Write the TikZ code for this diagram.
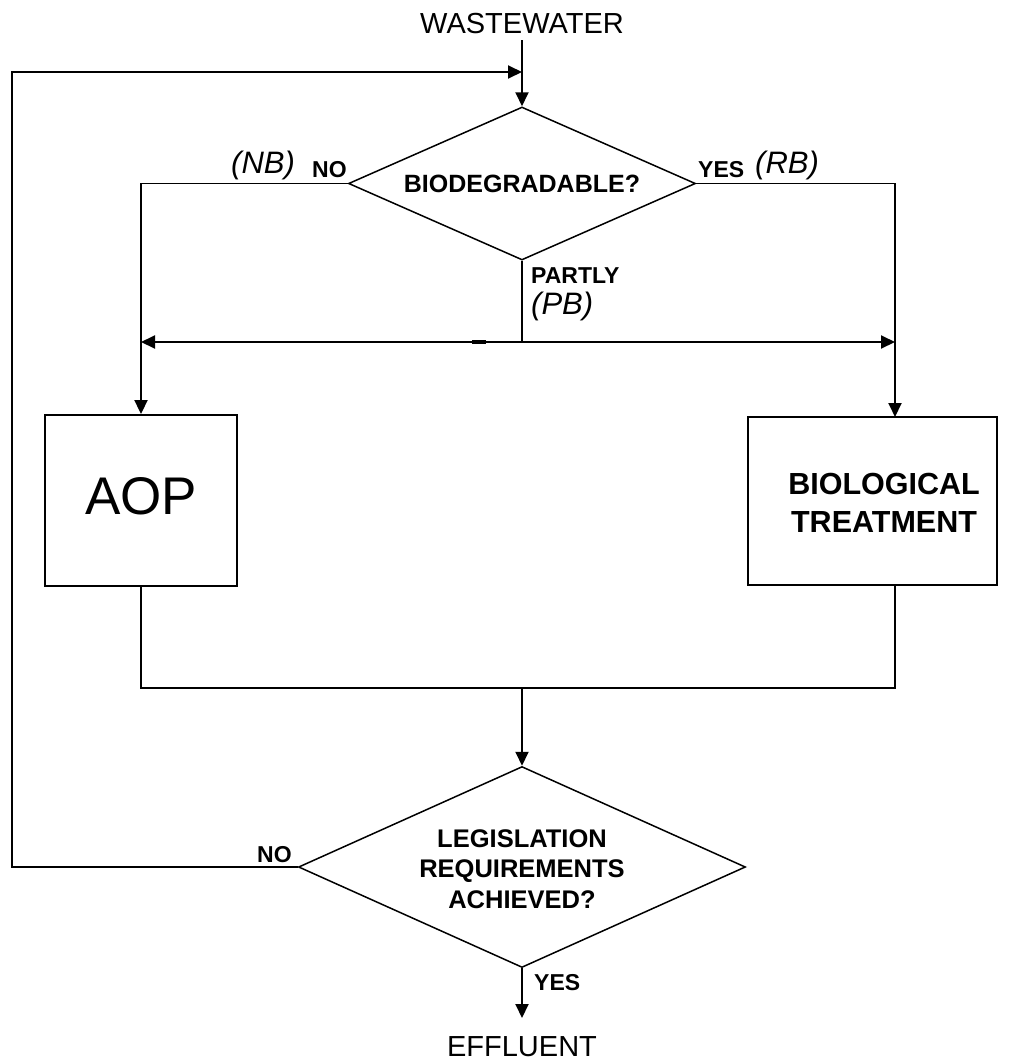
\documentclass[tikz,border=0pt]{standalone}
\usepackage{fontspec}
\setmainfont{Liberation Sans}
\usetikzlibrary{arrows.meta,shapes.geometric}
\begin{document}
\begin{tikzpicture}[x=1pt,y=-1pt,
  line/.style={line width=1.9pt},
  arr/.style={line width=1.9pt,-{Triangle[length=14pt,width=13pt]}},
  arrboth/.style={line width=1.9pt,{Triangle[length=14pt,width=13pt]}-{Triangle[length=14pt,width=13pt]}},
  dia/.style={diamond,draw,line width=1.5pt,inner sep=0pt},
  procbox/.style={rectangle,draw,line width=1.9pt,inner sep=0pt},
  blab/.style={font=\bfseries\fontsize{23}{26}\selectfont,inner sep=0pt,anchor=base west},
  ilab/.style={font=\itshape\fontsize{31}{34}\selectfont,inner sep=0pt,anchor=base west},
  term/.style={font=\fontsize{29}{32}\selectfont,inner sep=0pt,anchor=base},
]
\useasboundingbox (0,0) rectangle (1033,1061);

% terminals
\node[term] (ww) at (522,33) {WASTEWATER};
\node[term] (eff) at (522,1056) {EFFLUENT};

% decisions
\node[dia,minimum width=347pt,minimum height=153pt] (d1) at (522,183.5) {};
\node[font=\bfseries\fontsize{25}{28}\selectfont,inner sep=0pt] (d1t) at (d1.center) {BIODEGRADABLE?};
\node[dia,minimum width=447pt,minimum height=201pt] (d2) at (522,867) {};
\node[align=center,font=\bfseries\fontsize{25.5}{30.5}\selectfont,inner sep=0pt] (d2t) at (522,869) {LEGISLATION\\REQUIREMENTS\\ACHIEVED?};

% process boxes
\node[procbox,minimum width=192pt,minimum height=171pt] (aop) at (141,500.5) {};
\node[font=\fontsize{53}{58}\selectfont,inner sep=0pt,anchor=base] (aopt) at (141,514) {AOP};
\node[procbox,minimum width=249pt,minimum height=168pt] (bio) at (872.5,501) {};
\node[align=center,font=\bfseries\fontsize{30.5}{38}\selectfont,inner sep=0pt] (biot) at (884,503) {BIOLOGICAL\\TREATMENT};

% junction coordinates
\coordinate (wwtop) at (522,40);
\coordinate (loopin) at (522,72);
\coordinate (loopL) at (12,72);
\coordinate (loopB) at (12,867);
\coordinate (nbc) at (141,183.5);
\coordinate (rbc) at (895,183.5);
\coordinate (bin) at (895,417);
\coordinate (pj) at (522,342);
\coordinate (pL) at (141,342);
\coordinate (pR) at (895,342);
\coordinate (bout) at (895,585);
\coordinate (c1) at (141,688);
\coordinate (c2) at (895,688);
\coordinate (cj) at (522,688);
\coordinate (etip) at (522,1018);

% connectors
\draw[arr] (wwtop) -- (d1.north);
\draw[arr] (d2.west) -- (loopB) -- (loopL) -- (loopin);
\draw[arr] (d1.west) -- (nbc) -- (aop.north);
\draw[arr] (d1.east) -- (rbc) -- (bin);
\draw[line] (d1.south) -- (pj);
\draw[arrboth] (pL) -- (pR);
\draw[line width=3.5pt] (472,342) -- (486,342);
\draw[line] (aop.south) -- (c1) -- (c2) -- (bout);
\draw[arr] (cj) -- (d2.north);
\draw[arr] (d2.south) -- (etip);

% branch labels
\node[ilab] (nb) at (231,173) {(NB)};
\node[blab] (no1) at (312,177) {NO};
\node[blab] (yes1) at (698,177) {YES};
\node[ilab] (rb) at (755,173) {(RB)};
\node[blab] (partly) at (531,283) {PARTLY};
\node[ilab] (pb) at (531,314) {(PB)};
\node[blab] (no2) at (257,862) {NO};
\node[blab] (yes2) at (534,990) {YES};
\end{tikzpicture}
\end{document}
